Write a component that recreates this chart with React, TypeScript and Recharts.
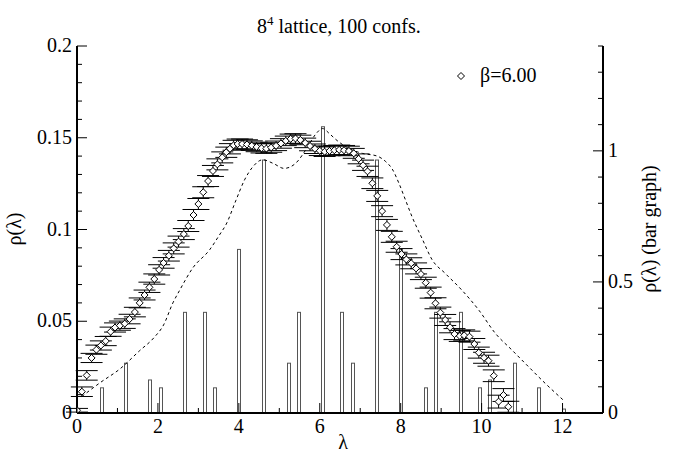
import {
  ComposedChart,
  XAxis,
  YAxis,
  Bar,
  Line,
  Scatter,
  ErrorBar,
} from "recharts";

// diamonds (beta = 6.00) with y errors
const pointX = [
  0.0, 0.12, 0.24, 0.36, 0.48, 0.59, 0.71, 0.83, 0.94, 1.06, 1.18, 1.3, 1.43,
  1.55, 1.67, 1.79, 1.91, 2.03, 2.14, 2.27, 2.39, 2.51, 2.64, 2.75, 2.88, 3.0,
  3.12, 3.24, 3.36, 3.47, 3.59, 3.69, 3.78, 3.87, 3.97, 4.08, 4.2, 4.32, 4.44,
  4.56, 4.68, 4.8, 4.92, 5.04, 5.16, 5.28, 5.4, 5.52, 5.64, 5.76, 5.88, 6.0,
  6.12, 6.24, 6.36, 6.48, 6.6, 6.72, 6.84, 6.96, 7.07, 7.18, 7.3, 7.42, 7.54,
  7.66, 7.78, 7.9, 8.02, 8.14, 8.26, 8.38, 8.5, 8.62, 8.74, 8.86, 8.98, 9.1,
  9.22, 9.33, 9.46, 9.57, 9.7, 9.82, 9.93, 10.06, 10.17, 10.3, 10.42, 10.54,
  10.66,
];
const pointY = [
  0.0015, 0.0116, 0.0205, 0.03, 0.0345, 0.0368, 0.0392, 0.0443, 0.0466, 0.0476,
  0.0487, 0.0512, 0.055, 0.06, 0.0643, 0.0685, 0.073, 0.078, 0.0818, 0.0857,
  0.0897, 0.0934, 0.0975, 0.1019, 0.1079, 0.1139, 0.1203, 0.1264, 0.1319,
  0.1355, 0.1393, 0.1421, 0.144, 0.1459, 0.1466, 0.1466, 0.1463, 0.1457, 0.145,
  0.1443, 0.1441, 0.1447, 0.1456, 0.1469, 0.1483, 0.1494, 0.1496, 0.1488,
  0.1472, 0.1455, 0.144, 0.1429, 0.1424, 0.1428, 0.1432, 0.1434, 0.1432,
  0.1428, 0.1415, 0.1385, 0.135, 0.1317, 0.1252, 0.1183, 0.11, 0.1025, 0.096,
  0.0906, 0.0866, 0.0837, 0.0816, 0.0788, 0.0757, 0.071, 0.0656, 0.0598,
  0.0547, 0.0507, 0.0467, 0.043, 0.042, 0.0423, 0.0416, 0.0376, 0.0329, 0.0301,
  0.0285, 0.0203, 0.0062, 0.0098, 0.0034,
];
const pointErr = [
  0.001, 0.0026, 0.0026, 0.0025, 0.0025, 0.0025, 0.0025, 0.0025, 0.0025,
  0.0025, 0.0026, 0.0026, 0.0026, 0.0027, 0.0027, 0.0028, 0.0028, 0.0028,
  0.0029, 0.0029, 0.003, 0.003, 0.003, 0.003, 0.003, 0.003, 0.003, 0.003,
  0.003, 0.003, 0.003, 0.0028, 0.0028, 0.0027, 0.0027, 0.0027, 0.0026, 0.0026,
  0.0026, 0.0026, 0.0026, 0.0026, 0.0026, 0.0026, 0.0026, 0.0026, 0.0026,
  0.0026, 0.0026, 0.0026, 0.0026, 0.0026, 0.0026, 0.0026, 0.0026, 0.0026,
  0.0026, 0.0026, 0.0027, 0.0027, 0.0028, 0.0028, 0.0029, 0.003, 0.003, 0.003,
  0.003, 0.003, 0.003, 0.003, 0.003, 0.003, 0.003, 0.003, 0.003, 0.003, 0.003,
  0.003, 0.003, 0.003, 0.003, 0.003, 0.003, 0.003, 0.003, 0.003, 0.003,
  0.0032, 0.0035, 0.0035, 0.003,
];

// dashed curve
const curveX = [
  0.12, 0.57, 1.06, 1.55, 1.9, 2.14, 2.37, 2.54, 2.86, 3.28, 3.52, 3.69, 3.93,
  4.14, 4.34, 4.59, 4.85, 5.12, 5.4, 5.7, 5.9, 6.07, 6.25, 6.4, 6.72, 7.05,
  7.42, 7.63, 7.79, 7.96, 8.12, 8.28, 8.53, 8.78, 9.1, 9.51, 9.93, 10.34,
  10.75, 11.16, 11.57, 12.02,
];
const curveY = [
  0.009, 0.0165, 0.024, 0.034, 0.041, 0.048, 0.06, 0.067, 0.079, 0.089, 0.097,
  0.103, 0.116, 0.127, 0.134, 0.138, 0.136, 0.1333, 0.136, 0.145, 0.152, 0.155,
  0.152, 0.149, 0.1442, 0.1415, 0.14, 0.137, 0.133, 0.125, 0.116, 0.107,
  0.095, 0.0834, 0.0761, 0.067, 0.0561, 0.0434, 0.0343, 0.0252, 0.0162, 0.007,
];

// bar graph (right axis)
const barX = [
  0.61, 1.22, 1.81, 2.07, 2.68, 3.17, 3.42, 4.01, 4.63, 5.23, 5.48, 6.07, 6.56,
  6.81, 7.42, 8.02, 8.63, 8.87, 9.49, 9.97, 10.21, 10.83, 11.43, 12.04,
];
const barH = [
  0.096, 0.19, 0.126, 0.096, 0.384, 0.384, 0.096, 0.624, 0.965, 0.19, 0.384,
  1.092, 0.384, 0.19, 0.965, 0.624, 0.096, 0.384, 0.384, 0.096, 0.126, 0.19,
  0.096, 0.015,
];

const xTicks = [0, 1, 2, 3, 4, 5, 6, 7, 8, 9, 10, 11, 12, 13];
const xMajor = [0, 2, 4, 6, 8, 10, 12];
const leftTicks = [
  0, 0.01, 0.02, 0.03, 0.04, 0.05, 0.06, 0.07, 0.08, 0.09, 0.1, 0.11, 0.12,
  0.13, 0.14, 0.15, 0.16, 0.17, 0.18, 0.19, 0.2,
];
const leftMajor = [0, 0.05, 0.1, 0.15, 0.2];
const rightTicks = [
  0, 0.1, 0.2, 0.3, 0.4, 0.5, 0.6, 0.7, 0.8, 0.9, 1, 1.1, 1.2, 1.3, 1.4,
];
const rightMajor = [0, 0.5, 1];

const points = pointX.map((x, i) => ({ x, y: pointY[i], e: pointErr[i] }));
const curve = curveX.map((x, i) => ({ x, y: curveY[i] }));
const bars = barX.map((x, i) => ({ x, h: barH[i] }));

const txt = {
  fontFamily: "'Times New Roman', Times, 'Liberation Serif', 'DejaVu Serif', serif",
  fontSize: 20,
};

const isMajor = (v: number, list: number[]) =>
  list.some((m) => Math.abs(m - v) < 1e-9);

const BottomTick = (props: any) => {
  const { x, y, payload } = props;
  const major = isMajor(payload.value, xMajor);
  return (
    <g>
      <line x1={x} x2={x} y1={y} y2={y - (major ? 10 : 5)} stroke="#000" />
      {major && (
        <text x={x} y={y + 20} textAnchor="middle" style={txt} fill="#000">
          {payload.value}
        </text>
      )}
    </g>
  );
};

const TopTick = (props: any) => {
  const { x, y, payload } = props;
  const major = isMajor(payload.value, xMajor);
  return <line x1={x} x2={x} y1={y} y2={y + (major ? 10 : 5)} stroke="#000" />;
};

const LeftTick = (props: any) => {
  const { x, y, payload } = props;
  const major = isMajor(payload.value, leftMajor);
  return (
    <g>
      <line x1={x} x2={x + (major ? 10 : 5)} y1={y} y2={y} stroke="#000" />
      {major && (
        <text x={x - 5} y={y + 6} textAnchor="end" style={txt} fill="#000">
          {payload.value}
        </text>
      )}
    </g>
  );
};

const RightTick = (props: any) => {
  const { x, y, payload } = props;
  const major = isMajor(payload.value, rightMajor);
  return (
    <g>
      <line x1={x} x2={x - (major ? 10 : 5)} y1={y} y2={y} stroke="#000" />
      {major && (
        <text x={x + 5} y={y + 6} textAnchor="start" style={txt} fill="#000">
          {payload.value}
        </text>
      )}
    </g>
  );
};

const Diamond = (props: any) => {
  const { cx, cy } = props;
  const r = 3.5;
  return (
    <polygon
      points={`${cx},${cy - r} ${cx + r},${cy} ${cx},${cy + r} ${cx - r},${cy}`}
      fill="#fff"
      stroke="#000"
      strokeWidth={1}
    />
  );
};

// thin outlined bar, centred on its lambda value
const ThinBar = (props: any) => {
  const { x, y, width, height } = props;
  if (height == null || height <= 0) return null;
  const cx = x + width / 2;
  return (
    <rect
      x={Math.round(cx) - 1.5}
      y={y}
      width={3}
      height={height}
      fill="#fff"
      stroke="#555"
      strokeWidth={1}
    />
  );
};

const axisLine = { stroke: "#000", strokeWidth: 2 };

export default function App() {
  return (
    <div style={{ position: "absolute", left: 0, top: 0, width: 681, height: 454, background: "#fff" }}>
      <ComposedChart
        width={681}
        height={454}
        data={bars}
        margin={{ top: 46, right: 38, bottom: 11, left: 37 }}
      >
        <XAxis
          xAxisId="b"
          type="number"
          dataKey="x"
          domain={[0, 13]}
          ticks={xTicks}
          interval={0}
          height={30}
          tickSize={0}
          tickMargin={0}
          tickLine={false}
          axisLine={axisLine}
          tick={BottomTick}
          allowDataOverflow
        />
        <XAxis
          xAxisId="t"
          orientation="top"
          type="number"
          dataKey="x"
          domain={[0, 13]}
          ticks={xTicks}
          interval={0}
          height={0}
          tickSize={0}
          tickMargin={0}
          tickLine={false}
          axisLine={axisLine}
          tick={TopTick}
          allowDataOverflow
        />
        <YAxis
          yAxisId="l"
          type="number"
          domain={[0, 0.2]}
          ticks={leftTicks}
          interval={0}
          width={40}
          tickSize={0}
          tickMargin={0}
          tickLine={false}
          axisLine={axisLine}
          tick={LeftTick}
          allowDataOverflow
        />
        <YAxis
          yAxisId="r"
          orientation="right"
          type="number"
          domain={[0, 1.4]}
          ticks={rightTicks}
          interval={0}
          width={40}
          tickSize={0}
          tickMargin={0}
          tickLine={false}
          axisLine={axisLine}
          tick={RightTick}
          allowDataOverflow
        />
        <Bar
          xAxisId="b"
          yAxisId="r"
          dataKey="h"
          barSize={3}
          shape={ThinBar}
          isAnimationActive={false}
        />
        <Line
          data={curve}
          xAxisId="b"
          yAxisId="l"
          dataKey="y"
          type="monotone"
          stroke="#000"
          strokeWidth={1}
          strokeDasharray="3 3"
          dot={false}
          isAnimationActive={false}
        />
        <Scatter
          data={points}
          xAxisId="b"
          yAxisId="l"
          dataKey="y"
          shape={Diamond}
          isAnimationActive={false}
        >
          <ErrorBar dataKey="e" direction="y" width={11} stroke="#000" strokeWidth={1} />
        </Scatter>
      </ComposedChart>
      <svg
        width={681}
        height={454}
        style={{ position: "absolute", left: 0, top: 0, pointerEvents: "none" }}
        fill="#000"
      >
        <text x={257} y={33} style={txt}>
          8<tspan dy={-8} fontSize={13}>4</tspan>
          <tspan dy={8}> lattice, 100 confs.</tspan>
        </text>
        <polygon points="461,72.5 464.5,76 461,79.5 457.5,76" fill="#fff" stroke="#000" />
        <text x={480} y={82} style={txt}>β=6.00</text>
        <text x={343} y={449} style={txt} textAnchor="middle">λ</text>
        <text transform="translate(21,229) rotate(-90)" style={txt} textAnchor="middle">ρ(λ)</text>
        <text transform="translate(656,229) rotate(-90)" style={txt} textAnchor="middle">ρ(λ) (bar graph)</text>
      </svg>
    </div>
  );
}
